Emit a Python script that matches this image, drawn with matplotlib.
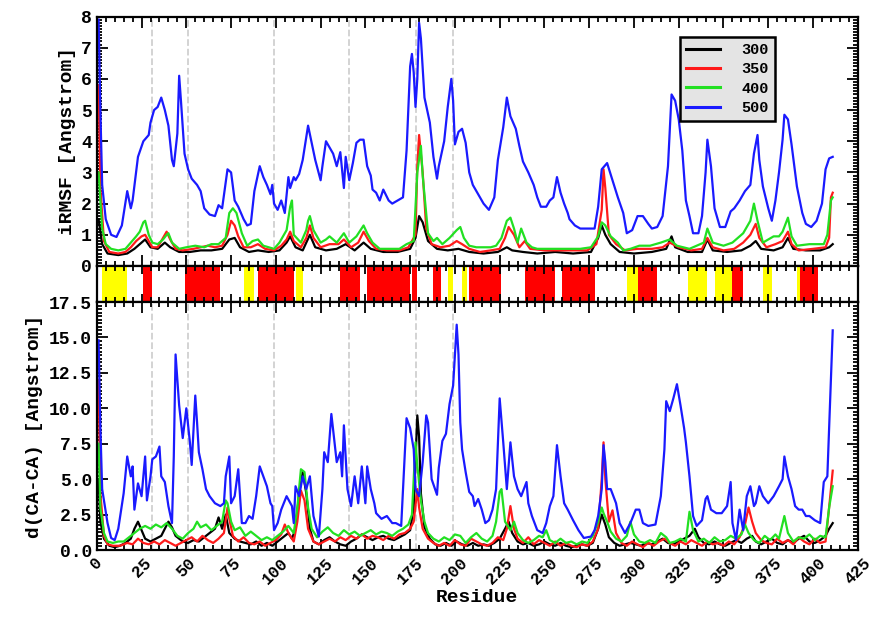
import numpy as np
import matplotlib
matplotlib.use("Agg")
import matplotlib.pyplot as plt
from matplotlib.ticker import MultipleLocator

plt.rcParams['font.family'] = ['Liberation Mono', 'DejaVu Sans Mono']
plt.rcParams['font.weight'] = 'bold'

# (residue, value) -- top panel, iRMSF
rmsf_300 = [(1, 1.5), (3, 0.7), (6, 0.4), (12, 0.35), (17, 0.4), (21, 0.55), (24, 0.7), (27, 0.85), (30, 0.6),
            (34, 0.55), (38, 0.75), (41, 0.6), (46, 0.45), (52, 0.45), (58, 0.5), (64, 0.5), (70, 0.55), (74, 0.85),
            (77, 0.9), (80, 0.6), (85, 0.45), (90, 0.5), (96, 0.45), (102, 0.5), (106, 0.75), (108, 0.95), (111, 0.6),
            (115, 0.5), (119, 1.0), (122, 0.6), (128, 0.5), (134, 0.55), (139, 0.7), (144, 0.5), (149, 0.75),
            (153, 0.55), (160, 0.45), (168, 0.45), (175, 0.55), (178, 0.9), (180, 1.6), (182, 1.4), (185, 0.8),
            (190, 0.55), (196, 0.5), (202, 0.55), (208, 0.45), (216, 0.4), (224, 0.45), (229, 0.6), (232, 0.5),
            (238, 0.45), (246, 0.4), (256, 0.45), (266, 0.4), (276, 0.45), (280, 0.9), (282, 1.3), (284, 1.0),
            (287, 0.7), (292, 0.45), (300, 0.4), (310, 0.45), (318, 0.55), (321, 0.95), (323, 0.6), (330, 0.45),
            (338, 0.45), (341, 0.85), (344, 0.5), (352, 0.45), (360, 0.5), (365, 0.65), (368, 0.8), (371, 0.55),
            (378, 0.5), (383, 0.6), (386, 0.9), (389, 0.55), (396, 0.5), (404, 0.5), (409, 0.6), (411, 0.7)]

rmsf_350 = [(1, 5.8), (2, 2.5), (4, 0.8), (7, 0.45), (12, 0.4), (16, 0.45), (19, 0.6), (22, 0.8), (25, 0.95),
            (27, 1.0), (29, 0.8), (31, 0.6), (34, 0.6), (37, 0.9), (39, 1.1), (41, 0.85), (44, 0.55), (48, 0.5),
            (54, 0.55), (58, 0.6), (62, 0.65), (66, 0.6), (70, 0.65), (73, 1.0), (75, 1.45), (77, 1.3), (79, 0.95),
            (82, 0.6), (86, 0.6), (90, 0.7), (94, 0.55), (99, 0.5), (103, 0.65), (106, 0.85), (108, 1.1), (110, 0.8),
            (114, 0.6), (117, 0.9), (119, 1.3), (121, 0.9), (125, 0.6), (130, 0.7), (135, 0.7), (138, 0.85),
            (142, 0.6), (146, 0.75), (149, 1.1), (152, 0.8), (156, 0.55), (162, 0.5), (169, 0.5), (174, 0.6),
            (178, 1.0), (179, 3.2), (180, 4.2), (182, 3.0), (184, 1.2), (187, 0.7), (192, 0.6), (197, 0.65),
            (201, 0.8), (204, 0.7), (208, 0.55), (214, 0.45), (220, 0.5), (225, 0.55), (228, 0.9), (230, 1.25),
            (233, 1.0), (236, 0.6), (239, 0.8), (242, 0.55), (250, 0.5), (258, 0.5), (266, 0.5), (274, 0.5),
            (279, 0.7), (282, 1.8), (283, 3.1), (284, 2.5), (286, 1.0), (290, 0.7), (295, 0.5), (302, 0.55),
            (310, 0.55), (316, 0.6), (320, 0.75), (325, 0.6), (332, 0.5), (338, 0.55), (341, 0.9), (344, 0.6),
            (350, 0.5), (356, 0.55), (361, 0.75), (365, 1.0), (368, 1.35), (370, 0.9), (374, 0.6), (379, 0.7),
            (383, 0.8), (386, 1.1), (388, 0.7), (392, 0.5), (400, 0.55), (407, 0.6), (409, 0.9), (410, 2.2),
            (411, 2.35)]

rmsf_400 = [(1, 3.0), (3, 1.2), (5, 0.7), (8, 0.55), (12, 0.5), (16, 0.55), (19, 0.75), (22, 0.95), (24, 1.1),
            (26, 1.4), (27, 1.45), (29, 1.0), (31, 0.75), (34, 0.7), (37, 0.85), (39, 1.0), (40, 1.05), (42, 0.75),
            (46, 0.55), (50, 0.6), (55, 0.65), (60, 0.6), (64, 0.7), (68, 0.7), (72, 0.9), (74, 1.7), (76, 1.85),
            (78, 1.7), (81, 1.05), (84, 0.65), (87, 0.8), (90, 0.85), (93, 0.65), (96, 0.6), (99, 0.55), (102, 0.75),
            (106, 1.15), (108, 1.9), (109, 2.1), (110, 1.0), (114, 0.75), (117, 1.15), (118, 1.45), (119, 1.6),
            (121, 1.15), (125, 0.75), (128, 0.85), (130, 0.95), (134, 0.75), (138, 1.05), (141, 0.75), (145, 0.95),
            (149, 1.3), (151, 1.05), (154, 0.75), (158, 0.55), (163, 0.55), (169, 0.55), (173, 0.7), (177, 0.8),
            (179, 3.0), (181, 3.85), (182, 2.9), (185, 1.05), (188, 0.8), (190, 0.9), (193, 0.7), (197, 0.9),
            (201, 1.15), (203, 1.25), (205, 0.9), (208, 0.65), (212, 0.6), (216, 0.6), (220, 0.6), (223, 0.65),
            (226, 0.9), (229, 1.45), (231, 1.55), (233, 1.2), (235, 0.75), (237, 1.2), (240, 0.75), (243, 0.6),
            (246, 0.55), (252, 0.55), (258, 0.55), (264, 0.55), (270, 0.55), (276, 0.6), (280, 0.95), (282, 1.4),
            (284, 1.3), (287, 0.95), (291, 0.75), (294, 0.5), (298, 0.55), (303, 0.65), (309, 0.65), (315, 0.75),
            (320, 0.85), (324, 0.65), (331, 0.55), (339, 0.75), (341, 1.2), (344, 0.75), (350, 0.65), (355, 0.75),
            (361, 1.05), (365, 1.45), (367, 2.0), (369, 1.45), (372, 0.75), (378, 0.95), (381, 0.95), (383, 1.1),
            (386, 1.55), (388, 0.95), (391, 0.65), (398, 0.7), (406, 0.7), (408, 1.0), (410, 2.1), (411, 2.2)]

rmsf_500 = [(1, 7.9), (2, 5.0), (3, 2.6), (5, 1.5), (8, 1.0), (11, 0.93), (14, 1.3), (17, 2.4), (19, 1.85),
            (20, 2.1), (23, 3.5), (26, 4.0), (29, 4.2), (30, 4.6), (32, 5.0), (34, 5.1), (36, 5.4), (38, 5.0),
            (40, 4.5), (42, 3.4), (43, 3.2), (45, 4.25), (46, 6.1), (47, 5.3), (49, 3.6), (51, 3.1), (53, 2.8),
            (56, 2.6), (58, 2.4), (60, 1.85), (63, 1.65), (66, 1.6), (68, 1.95), (70, 1.85), (73, 3.1), (75, 3.0),
            (77, 2.1), (79, 1.9), (82, 1.5), (84, 1.3), (86, 1.35), (88, 2.4), (91, 3.2), (93, 2.85), (95, 2.6),
            (97, 2.3), (98, 2.6), (99, 2.0), (101, 1.8), (103, 2.1), (105, 1.7), (107, 2.85), (108, 2.5),
            (110, 2.85), (111, 2.75), (113, 2.95), (115, 3.4), (118, 4.5), (120, 3.95), (122, 3.4), (125, 2.75),
            (126, 3.2), (128, 4.0), (130, 3.8), (132, 3.6), (134, 3.2), (136, 3.65), (138, 2.5), (139, 3.5),
            (141, 2.75), (143, 3.3), (145, 3.95), (147, 4.05), (149, 4.05), (151, 3.2), (153, 2.9), (154, 2.45),
            (156, 2.35), (158, 2.1), (160, 2.45), (163, 2.1), (165, 2.0), (168, 2.1), (171, 2.2), (173, 3.7),
            (175, 6.4), (176, 6.8), (177, 6.2), (178, 5.1), (179, 6.0), (180, 7.8), (181, 7.3), (183, 5.4),
            (186, 4.6), (188, 3.5), (190, 2.8), (191, 3.2), (194, 4.0), (196, 5.1), (198, 6.0), (199, 5.3),
            (200, 3.9), (202, 4.3), (204, 4.4), (206, 3.95), (208, 3.0), (210, 2.6), (212, 2.4), (216, 2.0),
            (219, 1.8), (222, 2.2), (224, 3.4), (227, 4.45), (229, 5.4), (231, 4.8), (234, 4.4), (236, 3.85),
            (238, 3.35), (241, 3.0), (244, 2.6), (246, 2.2), (248, 1.9), (251, 1.9), (253, 2.1), (255, 2.2),
            (257, 2.85), (259, 2.35), (261, 2.0), (263, 1.7), (264, 1.5), (267, 1.3), (270, 1.2), (274, 1.2),
            (278, 1.2), (280, 1.9), (282, 3.1), (285, 3.3), (288, 2.75), (291, 2.2), (294, 1.7), (296, 1.05),
            (299, 1.15), (302, 1.6), (305, 1.6), (308, 1.35), (310, 1.2), (313, 1.25), (316, 1.6), (319, 3.2),
            (321, 5.5), (323, 5.3), (325, 4.7), (327, 3.7), (329, 2.1), (331, 1.6), (333, 1.05), (336, 1.05),
            (338, 1.6), (340, 3.0), (341, 4.05), (343, 3.2), (345, 1.85), (348, 1.25), (351, 1.25), (354, 1.75),
            (356, 1.85), (359, 2.1), (362, 2.4), (365, 2.6), (367, 3.6), (369, 4.2), (370, 3.4), (372, 2.55),
            (375, 1.85), (377, 1.45), (379, 2.1), (381, 3.0), (383, 4.05), (384, 4.85), (386, 4.7), (388, 3.9),
            (391, 2.55), (394, 1.7), (396, 1.35), (399, 1.25), (402, 1.45), (405, 2.0), (407, 3.1), (409, 3.45),
            (411, 3.5)]

# bottom panel, d(CA-CA)
dca_300 = [(1, 5.0), (2, 2.0), (4, 0.8), (7, 0.3), (10, 0.2), (13, 0.3), (16, 0.5), (19, 0.8), (21, 1.5), (23, 2.0),
           (25, 1.4), (27, 0.8), (30, 0.6), (33, 0.8), (36, 1.0), (38, 1.5), (40, 2.0), (42, 1.6), (44, 1.0),
           (46, 0.8), (48, 0.6), (51, 0.5), (54, 0.7), (57, 0.6), (60, 0.9), (63, 1.2), (66, 1.5), (68, 2.3),
           (70, 1.5), (72, 2.5), (74, 1.2), (77, 0.8), (80, 0.6), (83, 0.5), (86, 0.4), (89, 0.6), (92, 0.3),
           (95, 0.5), (98, 0.3), (101, 0.6), (104, 0.9), (107, 1.2), (109, 0.8), (111, 1.5), (113, 4.0), (115, 5.5),
           (117, 4.0), (119, 1.5), (121, 0.6), (124, 0.4), (127, 0.7), (130, 0.9), (133, 0.6), (136, 0.4),
           (139, 0.3), (142, 0.6), (145, 0.8), (148, 1.1), (151, 0.9), (154, 0.7), (157, 0.9), (160, 1.0),
           (163, 0.8), (166, 0.7), (169, 0.9), (172, 1.1), (175, 1.4), (177, 3.0), (179, 9.5), (180, 8.0),
           (181, 4.0), (183, 1.6), (186, 0.8), (189, 0.4), (192, 0.3), (195, 0.5), (198, 0.3), (201, 0.6),
           (204, 0.4), (207, 0.3), (210, 0.5), (213, 0.3), (216, 0.4), (219, 0.3), (222, 0.5), (225, 0.8),
           (228, 1.5), (230, 2.0), (232, 1.2), (235, 0.6), (238, 0.4), (241, 0.5), (244, 0.3), (247, 0.4),
           (250, 0.6), (253, 0.4), (256, 0.3), (259, 0.5), (262, 0.3), (265, 0.2), (268, 0.3), (271, 0.4),
           (274, 0.3), (277, 0.5), (280, 1.5), (282, 2.5), (284, 1.8), (286, 0.9), (289, 0.5), (292, 0.3),
           (295, 0.4), (298, 0.5), (301, 0.4), (304, 0.3), (307, 0.5), (310, 0.4), (313, 0.6), (316, 0.8),
           (319, 0.5), (322, 0.4), (325, 0.6), (328, 0.8), (331, 1.0), (334, 1.5), (336, 0.9), (339, 0.5),
           (342, 0.4), (345, 0.6), (348, 0.4), (351, 0.3), (354, 0.5), (357, 0.7), (360, 0.5), (363, 0.8),
           (366, 1.0), (368, 0.6), (371, 0.4), (374, 0.6), (377, 0.8), (380, 0.5), (383, 0.4), (386, 0.7),
           (389, 0.5), (392, 0.8), (395, 1.0), (398, 0.6), (401, 0.5), (404, 0.7), (407, 1.0), (409, 1.5),
           (411, 1.9)]

dca_350 = [(1, 12.0), (2, 4.0), (4, 1.0), (6, 0.4), (9, 0.3), (13, 0.3), (17, 0.5), (20, 0.4), (23, 0.8), (26, 0.5),
           (29, 0.4), (32, 0.6), (35, 0.4), (38, 0.7), (41, 0.5), (44, 0.3), (47, 0.5), (50, 0.7), (53, 0.9),
           (56, 0.6), (59, 1.0), (62, 0.7), (65, 0.5), (68, 0.8), (71, 1.2), (73, 3.0), (74, 2.2), (76, 1.0),
           (79, 0.6), (82, 0.9), (85, 0.5), (88, 0.4), (91, 0.6), (94, 0.3), (97, 0.5), (100, 0.7), (103, 1.1),
           (105, 1.8), (107, 1.2), (110, 0.6), (112, 2.0), (114, 4.2), (116, 3.5), (118, 1.5), (121, 0.6),
           (124, 0.4), (127, 0.6), (130, 0.8), (133, 0.6), (136, 0.9), (139, 0.7), (142, 1.0), (145, 0.8),
           (148, 1.1), (151, 0.8), (154, 1.0), (157, 0.9), (160, 0.7), (163, 1.0), (166, 0.8), (169, 1.1),
           (172, 1.2), (175, 1.5), (177, 2.0), (179, 4.3), (180, 3.0), (182, 1.5), (185, 0.8), (188, 0.5),
           (191, 0.3), (194, 0.5), (197, 0.3), (200, 0.7), (203, 0.4), (206, 0.3), (209, 0.8), (212, 0.6),
           (215, 0.4), (218, 0.3), (221, 0.5), (224, 0.9), (227, 0.7), (229, 1.5), (231, 3.1), (233, 1.5),
           (235, 0.8), (238, 0.5), (241, 0.9), (244, 0.4), (247, 0.7), (250, 0.5), (253, 0.3), (256, 0.6),
           (259, 0.3), (262, 0.5), (265, 0.3), (268, 0.2), (271, 0.4), (274, 0.3), (277, 0.6), (280, 1.5),
           (282, 5.0), (283, 7.6), (284, 5.0), (286, 2.0), (288, 2.8), (290, 1.2), (293, 0.5), (296, 0.3),
           (299, 0.6), (302, 0.4), (305, 0.2), (308, 0.5), (311, 0.3), (314, 0.6), (317, 0.8), (320, 0.5),
           (323, 0.3), (326, 0.6), (329, 0.4), (332, 0.7), (335, 0.5), (338, 0.3), (341, 0.6), (344, 0.4),
           (347, 0.5), (350, 0.3), (353, 0.6), (356, 0.4), (359, 0.9), (362, 1.8), (364, 3.0), (366, 2.0),
           (368, 1.2), (371, 0.7), (374, 0.5), (377, 0.4), (380, 0.8), (383, 0.5), (386, 0.7), (389, 0.4),
           (392, 0.9), (395, 0.6), (398, 0.4), (401, 0.8), (404, 0.5), (407, 0.6), (409, 3.0), (411, 5.6)]

dca_400 = [(1, 7.5), (2, 3.0), (4, 1.2), (6, 0.6), (9, 0.5), (12, 0.6), (15, 0.6), (18, 0.9), (21, 1.2), (24, 1.5),
           (27, 1.7), (30, 1.5), (33, 1.8), (36, 1.6), (39, 1.9), (42, 1.5), (45, 1.0), (48, 0.8), (51, 1.2),
           (54, 1.5), (56, 2.0), (58, 1.6), (61, 1.8), (64, 1.4), (67, 1.7), (70, 2.0), (72, 3.5), (73, 3.3),
           (75, 2.0), (77, 1.4), (80, 1.6), (83, 1.0), (86, 1.3), (89, 1.0), (92, 0.7), (95, 0.9), (98, 0.7),
           (101, 1.0), (104, 1.3), (107, 1.7), (110, 1.2), (112, 3.0), (114, 5.7), (116, 5.5), (118, 3.0),
           (120, 1.5), (123, 0.9), (126, 1.3), (129, 1.6), (132, 1.2), (135, 1.0), (138, 1.4), (141, 1.1),
           (144, 1.3), (147, 1.0), (150, 1.2), (153, 1.4), (156, 1.1), (159, 1.3), (162, 1.2), (165, 1.0),
           (168, 1.3), (171, 1.5), (174, 1.8), (176, 2.5), (178, 7.6), (179, 6.0), (181, 3.5), (183, 2.0),
           (185, 1.2), (188, 0.8), (191, 0.6), (194, 0.9), (197, 0.7), (200, 1.1), (203, 1.0), (206, 0.5),
           (209, 0.9), (212, 1.2), (215, 0.8), (218, 0.6), (221, 1.0), (223, 2.0), (225, 4.1), (226, 4.3),
           (228, 2.0), (231, 1.4), (233, 2.0), (235, 1.2), (238, 0.7), (241, 0.5), (244, 0.7), (247, 1.0),
           (249, 0.9), (251, 1.4), (253, 0.7), (256, 0.5), (259, 0.8), (262, 0.5), (265, 0.6), (268, 0.4),
           (271, 0.6), (274, 0.5), (277, 1.0), (280, 2.0), (282, 3.0), (283, 2.6), (285, 2.0), (287, 1.3),
           (290, 0.8), (293, 0.6), (296, 1.0), (298, 2.0), (300, 1.1), (303, 0.6), (306, 0.5), (309, 0.7),
           (312, 0.5), (315, 1.2), (318, 0.9), (320, 0.5), (323, 0.6), (326, 0.8), (329, 0.6), (331, 2.7),
           (333, 1.4), (336, 0.6), (339, 0.8), (342, 0.5), (345, 0.9), (348, 0.6), (351, 0.7), (354, 1.0),
           (357, 0.8), (360, 1.1), (362, 1.8), (364, 1.2), (367, 0.7), (370, 0.5), (373, 1.0), (376, 0.7),
           (379, 1.1), (381, 0.8), (384, 2.4), (386, 1.2), (389, 0.6), (392, 0.9), (395, 0.8), (398, 1.1),
           (401, 0.7), (404, 1.0), (407, 0.9), (409, 3.0), (411, 4.5)]

dca_500 = [(1, 14.8), (2, 8.6), (3, 4.3), (6, 1.9), (8, 0.85), (10, 0.7), (12, 1.5), (15, 4.0), (17, 6.6), (19, 5.2),
           (20, 5.9), (21, 2.85), (23, 4.7), (25, 3.8), (27, 6.6), (28, 3.5), (30, 5.2), (31, 6.4), (33, 6.6),
           (35, 7.3), (36, 5.2), (38, 4.8), (40, 3.1), (42, 1.9), (43, 6.6), (44, 13.8), (46, 10.2), (48, 7.9),
           (50, 10.0), (52, 7.6), (53, 6.0), (55, 10.9), (56, 9.0), (57, 6.9), (59, 5.7), (61, 4.3), (63, 3.8),
           (66, 3.3), (69, 3.1), (71, 3.3), (72, 5.2), (74, 6.6), (75, 3.3), (77, 3.8), (79, 5.7), (81, 1.9),
           (83, 1.9), (85, 2.4), (87, 2.2), (89, 3.8), (91, 5.9), (93, 5.2), (95, 4.5), (97, 3.3), (98, 3.1),
           (99, 1.4), (101, 1.9), (103, 2.85), (106, 3.8), (109, 3.1), (110, 1.9), (111, 4.5), (113, 3.8),
           (115, 5.2), (117, 4.3), (119, 5.2), (121, 2.4), (124, 0.95), (126, 4.3), (127, 6.9), (129, 6.2),
           (131, 9.6), (133, 7.3), (134, 6.2), (136, 6.9), (137, 5.2), (138, 8.8), (140, 4.3), (142, 3.1),
           (144, 5.2), (146, 3.3), (148, 5.9), (150, 3.3), (151, 5.9), (153, 4.3), (155, 3.3), (156, 2.6),
           (159, 2.2), (162, 2.4), (165, 1.9), (167, 1.9), (170, 1.7), (173, 9.3), (175, 8.6), (177, 7.1),
           (178, 4.3), (180, 3.8), (182, 6.2), (184, 9.5), (185, 9.0), (187, 5.0), (190, 3.9), (191, 5.8),
           (193, 7.7), (195, 8.2), (197, 10.3), (199, 11.6), (201, 15.9), (202, 13.8), (203, 9.0), (204, 7.1),
           (206, 5.5), (208, 4.1), (210, 3.8), (211, 3.1), (213, 3.6), (215, 2.85), (217, 1.9), (219, 2.1),
           (221, 2.85), (223, 4.3), (225, 10.7), (227, 7.6), (229, 4.3), (231, 7.6), (233, 5.2), (235, 4.3),
           (237, 3.8), (240, 4.8), (241, 3.3), (243, 2.4), (246, 1.4), (249, 1.2), (251, 1.9), (253, 3.1),
           (255, 3.8), (257, 7.4), (259, 5.2), (261, 3.3), (263, 2.85), (266, 2.1), (269, 1.4), (272, 0.85),
           (276, 0.95), (278, 1.4), (280, 2.4), (282, 4.3), (283, 7.4), (284, 6.2), (285, 4.3), (287, 4.3),
           (290, 3.3), (292, 1.9), (295, 1.2), (298, 1.9), (301, 2.85), (303, 2.85), (305, 1.9), (308, 1.7),
           (312, 1.8), (315, 3.8), (317, 7.1), (318, 10.5), (320, 9.8), (322, 10.7), (324, 11.7), (326, 10.2),
           (328, 8.6), (329, 7.6), (331, 5.2), (333, 2.4), (335, 1.7), (338, 2.1), (340, 3.6), (341, 3.8),
           (343, 2.85), (346, 2.6), (349, 2.6), (352, 3.1), (354, 4.8), (355, 1.9), (357, 0.7), (359, 2.85),
           (361, 1.4), (363, 3.8), (365, 4.5), (367, 3.1), (368, 3.3), (370, 4.5), (372, 3.8), (375, 3.3),
           (378, 3.8), (381, 4.5), (383, 5.0), (384, 6.6), (386, 5.2), (388, 4.3), (390, 3.1), (392, 2.85),
           (394, 2.85), (396, 2.4), (398, 2.4), (401, 2.1), (404, 1.9), (406, 4.8), (408, 5.2), (409, 8.6),
           (411, 15.5)]

# secondary structure (start, end residue)
helix = [(26, 31), (49, 69), (90, 110), (136, 147), (151, 175), (176, 179), (188, 192), (208, 226),
         (239, 256), (260, 278), (302, 313), (355, 361), (393, 403)]
strand = [(3, 17), (82, 88), (111, 115), (196, 199), (204, 207), (296, 302), (330, 341), (345, 355),
          (372, 377), (391, 393)]

# dashed guide lines
guides = [31, 51, 99, 141, 178, 199]

temps = ['300', '350', '400', '500']
colors = ['black', '#ff1a1a', '#22e022', '#1a1aff']

fig = plt.figure(figsize=(8.72, 6.18), dpi=100)
ax1 = fig.add_axes([0.111, 0.5696, 0.8727, 0.4037])
ax2 = fig.add_axes([0.111, 0.5113, 0.8727, 0.0583])
ax3 = fig.add_axes([0.111, 0.1100, 0.8727, 0.4013])

def style(ax):
    ax.set_xlim(0, 425)
    ax.xaxis.set_major_locator(MultipleLocator(25))
    ax.xaxis.set_minor_locator(MultipleLocator(5))
    ax.tick_params(which='both', direction='in', top=True, right=True, width=1.3, labelsize=13)
    ax.tick_params(which='major', length=8)
    ax.tick_params(which='minor', length=3.5)
    for s in ax.spines.values():
        s.set_linewidth(1.6)

#top panel
for x in guides:
    ax1.axvline(x, color='#d0d0d0', ls='--', lw=1.3, zorder=0)
for data, t, c in zip([rmsf_300, rmsf_350, rmsf_400, rmsf_500], temps, colors):
    r, v = zip(*data)
    ax1.plot(r, v, color=c, lw=1.6, label=t)
style(ax1)
ax1.set_ylim(0, 8)
ax1.yaxis.set_major_locator(MultipleLocator(1))
ax1.yaxis.set_minor_locator(MultipleLocator(0.1))
ax1.tick_params(labelbottom=False)
ax1.set_ylabel('iRMSF [Angstrom]', fontsize=14, fontweight='bold')
leg = ax1.legend(loc='upper right', bbox_to_anchor=(0.891, 0.918), borderaxespad=0, fontsize=11,
                 frameon=True, fancybox=False, edgecolor='black', facecolor='#e4e4e4', framealpha=1,
                 handlelength=2.2, handletextpad=1.4, labelspacing=0.35)
leg.get_frame().set_linewidth(1.8)
for line in leg.get_lines():
    line.set_linewidth(2.2)

#secondary structure strip
for a, b in helix:
    ax2.axvspan(a, b, color='#ff0000', lw=0)
for a, b in strand:
    ax2.axvspan(a, b, color='#ffff00', lw=0)
style(ax2)
ax2.set_ylim(0, 1)
ax2.set_yticks([])
ax2.tick_params(labelbottom=False)
ax2.tick_params(which='major', length=6)

#bottom panel
for x in guides:
    ax3.axvline(x, color='#d0d0d0', ls='--', lw=1.3, zorder=0)
for data, c in zip([dca_300, dca_350, dca_400, dca_500], colors):
    r, v = zip(*data)
    ax3.plot(r, v, color=c, lw=1.6)
style(ax3)
ax3.set_ylim(0, 17.5)
ax3.yaxis.set_major_locator(MultipleLocator(2.5))
ax3.yaxis.set_minor_locator(MultipleLocator(0.25))
ax3.yaxis.set_major_formatter(matplotlib.ticker.FormatStrFormatter('%.1f'))
ax3.tick_params(axis='x', labelsize=12)
for lab in ax3.get_xticklabels():
    lab.set_rotation(45)
ax3.set_ylabel('d(CA-CA) [Angstrom]', fontsize=14, fontweight='bold')
ax3.set_xlabel('Residue', fontsize=14, fontweight='bold', labelpad=2)

fig.savefig('out.png', dpi=100)
